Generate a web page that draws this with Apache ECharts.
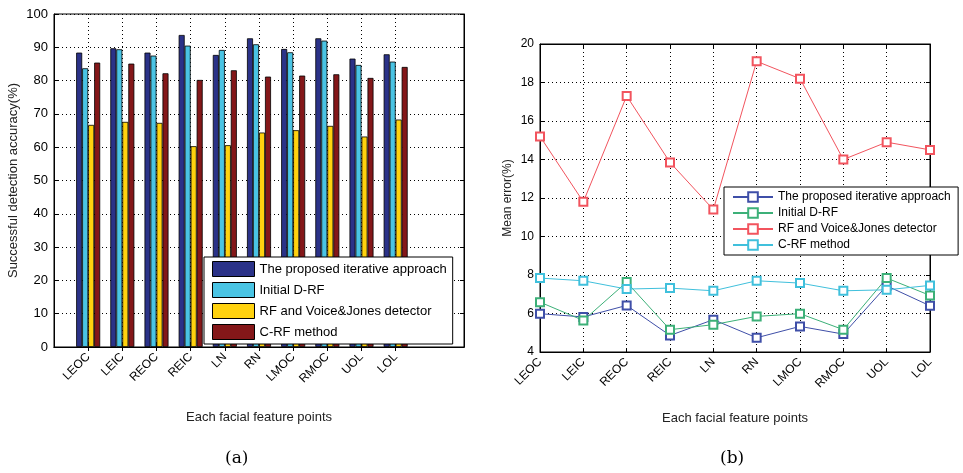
<!DOCTYPE html>
<html>
<head>
<meta charset="utf-8">
<script src="https://cdn.jsdelivr.net/npm/echarts@6/dist/echarts.min.js"></script>
<style>
  html, body { margin: 0; padding: 0; background: #fff; }
  #chart { width: 963px; height: 473px; }
</style>
</head>
<body>
<div id="chart"></div>
<script>
// feature points on the x axis of both panels
const points = ['LEOC', 'LEIC', 'REOC', 'REIC', 'LN', 'RN', 'LMOC', 'RMOC', 'UOL', 'LOL'];
const methods = ['The proposed iterative approach', 'Initial D-RF', 'RF and Voice&Jones detector', 'C-RF method'];

// (a) successful detection accuracy (%)
const accProposed = [88.4, 89.7, 88.4, 93.7, 87.7, 92.7, 89.5, 92.7, 86.6, 87.9];
const accInitial  = [83.7, 89.4, 87.5, 90.5, 89.2, 90.9, 88.5, 92.0, 84.7, 85.7];
const accRFVJ     = [66.7, 67.6, 67.3, 60.3, 60.6, 64.4, 65.1, 66.4, 63.2, 68.3];
const accCRF      = [85.4, 85.1, 82.2, 80.2, 83.1, 81.2, 81.5, 81.9, 80.8, 84.1];

// (b) mean error (%)
const errProposed = [5.99, 5.82, 6.42, 4.86, 5.68, 4.74, 5.33, 4.93, 7.44, 6.40];
const errInitial  = [6.59, 5.64, 7.63, 5.16, 5.42, 5.85, 5.99, 5.16, 7.84, 6.94];
const errRFVJ     = [15.2, 11.8, 17.3, 13.85, 11.4, 19.1, 18.2, 14.0, 14.9, 14.5];
const errCRF      = [7.84, 7.70, 7.27, 7.32, 7.18, 7.70, 7.58, 7.18, 7.23, 7.46];

const barColors  = ['#2b3288', '#4ac4e4', '#ffd20f', '#841719'];
const lineColors = ['#3f4fa8', '#3cb078', '#f2545e', '#40c0dc'];

const font = 'Liberation Sans, Arial, sans-serif';

// bar panel uses x = 0..12 like matlab, categories sit on 1..10
const barCats = [''].concat(points, ['', '']);
const pad = arr => [null].concat(arr, [null, null]);

const accSeries = [accProposed, accInitial, accRFVJ, accCRF];
const errSeries = [errProposed, errInitial, errRFVJ, errCRF];

const dotted = { color: '#000', width: 1, type: [1, 3] };
const notEmpty = (i, v) => v !== '';
const tick = { inside: true, length: 4, lineStyle: { color: '#000' } };

const chart = echarts.init(document.getElementById('chart'));

// mirrored axes on top / right carry only the inward ticks
function mirrorX(grid, data, interval) {
  return {
    gridIndex: grid, type: 'category', data: data, boundaryGap: false, position: 'top',
    axisLine: { lineStyle: { color: '#000' } },
    axisTick: Object.assign({ interval: interval }, tick),
    axisLabel: { show: false }, splitLine: { show: false }
  };
}
function mirrorY(grid, min, max, step) {
  return {
    gridIndex: grid, type: 'value', min: min, max: max, interval: step, position: 'right',
    axisLine: { show: true, lineStyle: { color: '#000' } },
    axisTick: Object.assign({ show: true }, tick),
    axisLabel: { show: false }, splitLine: { show: false }
  };
}

const option = {
  backgroundColor: '#fff',
  animation: false,
  textStyle: { fontFamily: font },
  grid: [
    { left: 54, top: 14, width: 410, height: 333, show: true, borderColor: '#000', borderWidth: 1, backgroundColor: '#fff' },
    { left: 540, top: 44, width: 390, height: 308, show: true, borderColor: '#000', borderWidth: 1, backgroundColor: '#fff' }
  ],
  xAxis: [
    {
      gridIndex: 0, type: 'category', data: barCats, boundaryGap: false,
      axisLine: { lineStyle: { color: '#000' } },
      axisTick: Object.assign({ interval: notEmpty }, tick),
      axisLabel: { rotate: 45, interval: 0, fontSize: 12, color: '#000', margin: 8, fontFamily: font },
      splitLine: { show: true, interval: notEmpty, lineStyle: dotted },
      name: 'Each facial feature points', nameLocation: 'middle', nameGap: 64,
      nameTextStyle: { fontSize: 13, color: '#222', fontFamily: font }
    },
    {
      gridIndex: 1, type: 'category', data: points, boundaryGap: false,
      axisLine: { lineStyle: { color: '#000' } },
      axisTick: tick,
      axisLabel: { rotate: 45, interval: 0, fontSize: 12, color: '#000', margin: 8, fontFamily: font },
      splitLine: { show: true, lineStyle: dotted },
      name: 'Each facial feature points', nameLocation: 'middle', nameGap: 60,
      nameTextStyle: { fontSize: 13, color: '#222', fontFamily: font }
    },
    mirrorX(0, barCats, notEmpty),
    mirrorX(1, points, 0)
  ],
  yAxis: [
    {
      gridIndex: 0, type: 'value', min: 0, max: 100, interval: 10,
      axisLine: { show: true, lineStyle: { color: '#000' } },
      axisTick: Object.assign({ show: true }, tick),
      axisLabel: { fontSize: 13, color: '#000', margin: 6, fontFamily: font },
      splitLine: { show: true, lineStyle: dotted },
      name: 'Successful detection accuracy(%)', nameLocation: 'middle', nameGap: 34,
      nameTextStyle: { fontSize: 13, color: '#222', fontFamily: font }
    },
    {
      gridIndex: 1, type: 'value', min: 4, max: 20, interval: 2,
      axisLine: { show: true, lineStyle: { color: '#000' } },
      axisTick: Object.assign({ show: true }, tick),
      axisLabel: { fontSize: 12, color: '#000', margin: 6, fontFamily: font },
      splitLine: { show: true, lineStyle: dotted },
      name: 'Mean error(%)', nameLocation: 'middle', nameGap: 26,
      nameTextStyle: { fontSize: 12, color: '#222', fontFamily: font }
    },
    mirrorY(0, 0, 100, 10),
    mirrorY(1, 4, 20, 2)
  ],
  legend: [
    {
      orient: 'vertical', left: 204, top: 257,
      data: methods.map(n => ({ name: n })),
      backgroundColor: '#fff', borderColor: '#000', borderWidth: 1,
      padding: [4, 6, 4, 8], itemGap: 5, itemWidth: 42, itemHeight: 15,
      icon: 'rect',
      itemStyle: { borderColor: '#000', borderWidth: 1 },
      textStyle: { fontSize: 13, color: '#000', fontFamily: font }
    },
    {
      orient: 'vertical', left: 724, top: 187,
      data: methods.map(n => ({ name: n + ' ' })),
      backgroundColor: '#fff', borderColor: '#000', borderWidth: 1,
      padding: [4, 4, 4, 8], itemGap: 4, itemWidth: 40, itemHeight: 12,
      textStyle: { fontSize: 12, color: '#000', fontFamily: font }
    }
  ],
  graphic: [
    { type: 'text', left: 225, top: 450, style: { text: '(a)', font: '17px "DejaVu Serif", serif', fill: '#000' } },
    { type: 'text', left: 720, top: 450, style: { text: '(b)', font: '17px "DejaVu Serif", serif', fill: '#000' } }
  ],
  series: []
};

accSeries.forEach((vals, i) => {
  option.series.push({
    name: methods[i], type: 'bar', xAxisIndex: 0, yAxisIndex: 0,
    data: pad(vals), barWidth: 6, barGap: '0%',
    itemStyle: { color: barColors[i], borderColor: '#000', borderWidth: 0.8 }
  });
});

errSeries.forEach((vals, i) => {
  option.series.push({
    name: methods[i] + ' ', type: 'line', xAxisIndex: 1, yAxisIndex: 1,
    data: vals, symbol: 'emptyRect', symbolSize: 8,
    lineStyle: { color: lineColors[i], width: 1 },
    itemStyle: { color: lineColors[i], borderWidth: 1 }
  });
});

chart.setOption(option);
</script>
</body>
</html>
